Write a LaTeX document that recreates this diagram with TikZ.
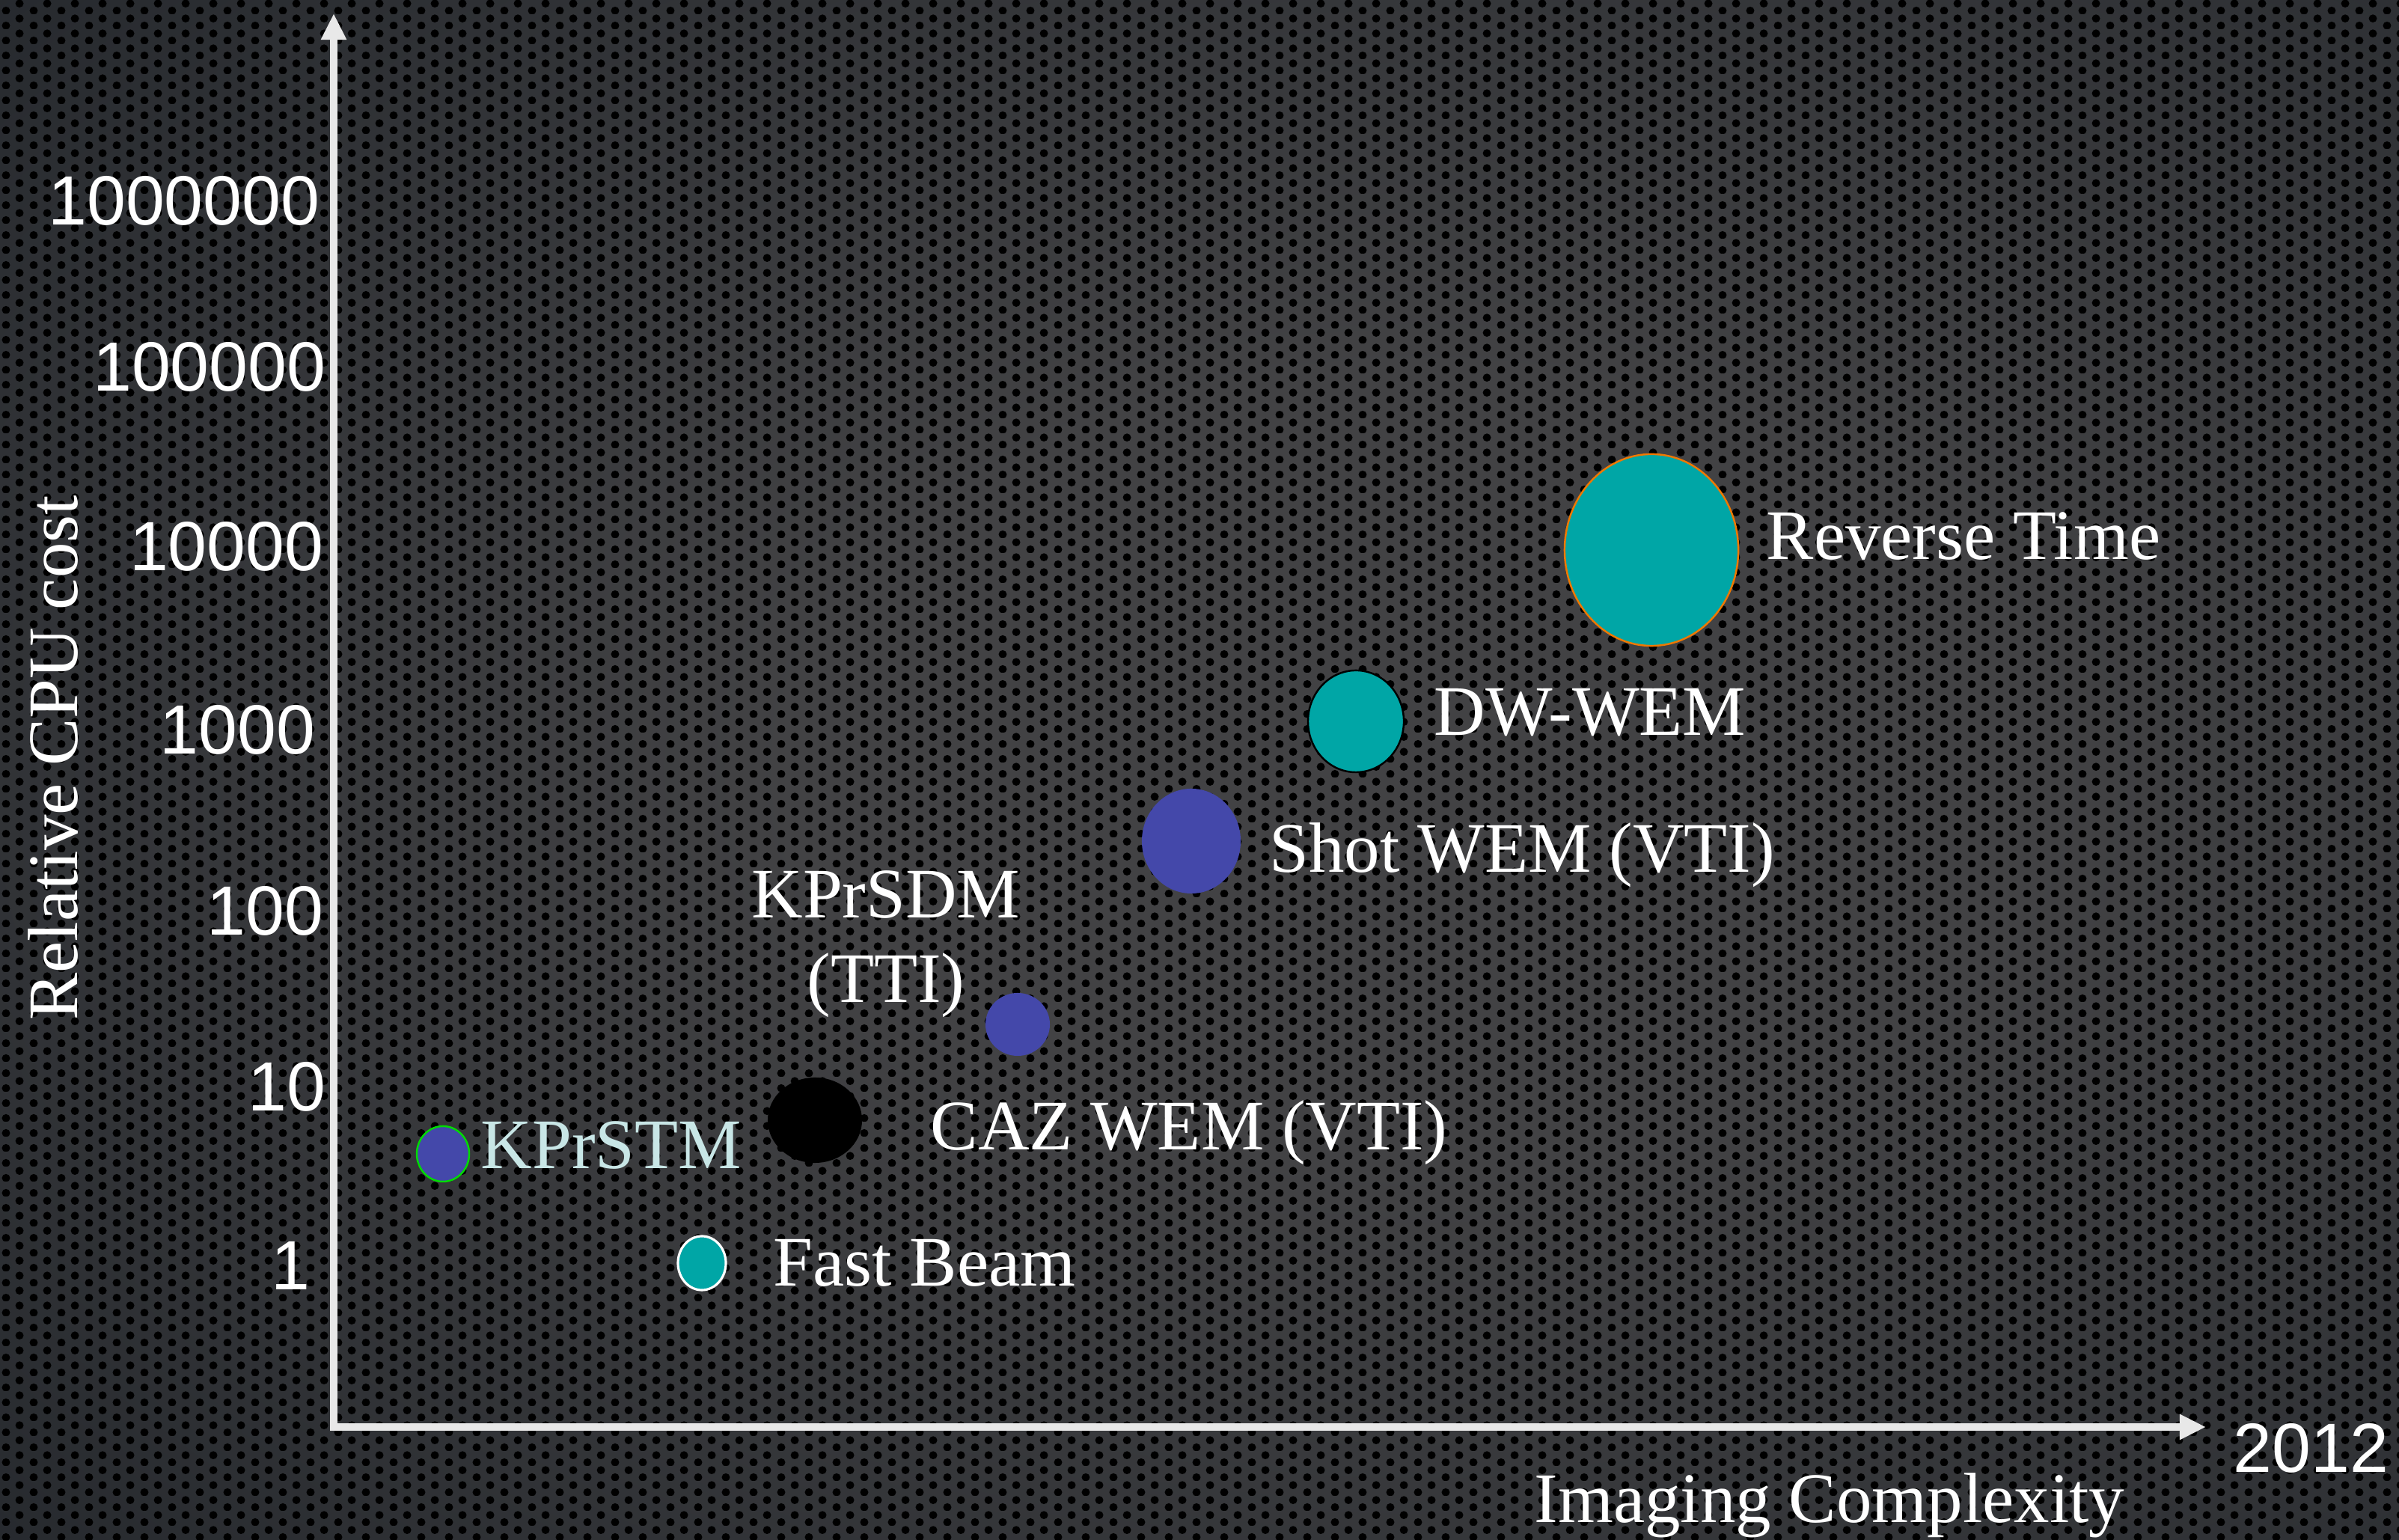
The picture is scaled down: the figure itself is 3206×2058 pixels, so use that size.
\documentclass[tikz,border=0pt]{standalone}
\usepackage{fontspec}
\setmainfont{Liberation Serif}
\setsansfont{Liberation Sans}
\usetikzlibrary{arrows.meta,shapes.geometric,patterns}

\definecolor{bgmid}{RGB}{66,66,68}
\definecolor{bgedge}{RGB}{22,27,33}
\definecolor{axisgray}{RGB}{232,232,232}
\definecolor{bubbleteal}{RGB}{0,166,166}
\definecolor{bubbleblue}{RGB}{68,72,170}
\definecolor{rimorange}{RGB}{240,120,0}
\definecolor{rimgreen}{RGB}{0,220,0}
\definecolor{stmcyan}{RGB}{200,230,230}

% Perforated metal plate behind the chart.
\pgfdeclareradialshading{plate}{\pgfpoint{0bp}{0bp}}{%
    color(0bp)=(bgmid); color(10bp)=(bgmid);
    color(42bp)=(bgedge); color(100bp)=(bgedge)}
\pgfdeclarepatternformonly{perfholes}{\pgfpointorigin}%
    {\pgfqpoint{10.53pt}{5.69pt}}{\pgfqpoint{10.53pt}{5.69pt}}{%
    \pgfpathcircle{\pgfqpoint{2.63pt}{1.42pt}}{1.6pt}
    \pgfpathcircle{\pgfqpoint{7.90pt}{4.27pt}}{1.6pt}
    \pgfusepath{fill}}

\begin{document}
\begin{tikzpicture}[%
        x = 0.01cm,
        y = 0.01cm,
        line cap = butt,
        axis/.style = {axisgray, line width = 2.85pt, line join = miter,
            {Triangle[width = 9.1pt, length = 10pt]}-{Triangle[width = 9.1pt, length = 10pt]}},
        bubble/.style = {ellipse, inner sep = 0pt, line width = 0.7pt},
        method/.style = {anchor = base west, inner sep = 0pt, text = white,
            font = \fontsize{27}{32}\selectfont},
        ticklabel/.style = {anchor = east, inner sep = 0pt, text = white,
            font = \sffamily\fontsize{26.5}{32}\selectfont}
    ]

        \useasboundingbox (0,0) rectangle (3206,2058);

        % Background.
        \begin{scope}
            \clip (0,0) rectangle (3206,2058);
            \shade[shading = plate] (-200,-300) rectangle (4000,2358);
            \fill[pattern = perfholes, pattern color = black] (0,0) rectangle (3206,2058);
        \end{scope}

        % Coordinates for the ends of the axes.
        \coordinate (O)  at (446,151);
        \coordinate (XT) at (2948,151);
        \coordinate (YT) at (446,2040);

        % Axes:
        \draw[axis] (YT) -- (O) -- (XT);

        % Tick values on the cost axis.
        \foreach \val/\xr/\yc in {1000000/428/1790, 100000/436/1568, 10000/433/1328,
                1000/422/1083, 100/433/841, 10/436/606, 1/415/367}
            \node[ticklabel] (tick\val) at (\xr,\yc) {\val};

        % Axis titles.
        \node[method, rotate = 90, anchor = base] (ylabel) at (103,1045) {Relative CPU cost};
        \node[method] (xlabel) at (2050,23) {Imaging Complexity};
        \node[ticklabel, anchor = base west] (year) at (2984,90) {2012};

        % Bubbles for the imaging methods.
        \node[bubble, fill = bubbleteal, draw = rimorange,
            minimum width = 2.32cm, minimum height = 2.56cm] (RT) at (2207,1323) {};
        \node[bubble, fill = bubbleteal, draw = black,
            minimum width = 1.28cm, minimum height = 1.36cm] (DW) at (1812,1094) {};
        \node[bubble, fill = bubbleblue,
            minimum width = 1.32cm, minimum height = 1.40cm] (SW) at (1592,934) {};
        \node[bubble, fill = bubbleblue,
            minimum width = 0.86cm, minimum height = 0.84cm] (SDM) at (1360,689) {};
        \node[bubble, fill = black,
            minimum width = 1.26cm, minimum height = 1.14cm] (CAZ) at (1089,561) {};
        \node[bubble, fill = bubbleblue, draw = rimgreen,
            minimum width = 0.70cm, minimum height = 0.74cm] (STM) at (592,516) {};
        \node[bubble, fill = bubbleteal, draw = white, line width = 0.9pt,
            minimum width = 0.64cm, minimum height = 0.72cm] (FB) at (938,370) {};

        % Names of the methods.
        \node[method] (RTlabel)  at (2360,1310) {Reverse Time};
        \node[method] (DWlabel)  at (1916,1075) {DW-WEM};
        \node[method] (SWlabel)  at (1696,892)  {Shot WEM (VTI)};
        \node[method, anchor = north, align = center] (SDMlabel) at (1184,895) {KPrSDM\\(TTI)};
        \node[method] (CAZlabel) at (1243,521)  {CAZ WEM (VTI)};
        \node[method, text = stmcyan] (STMlabel) at (642,496) {KPrSTM};
        \node[method] (FBlabel)  at (1033,339)  {Fast Beam};
    \end{tikzpicture}
\end{document}
